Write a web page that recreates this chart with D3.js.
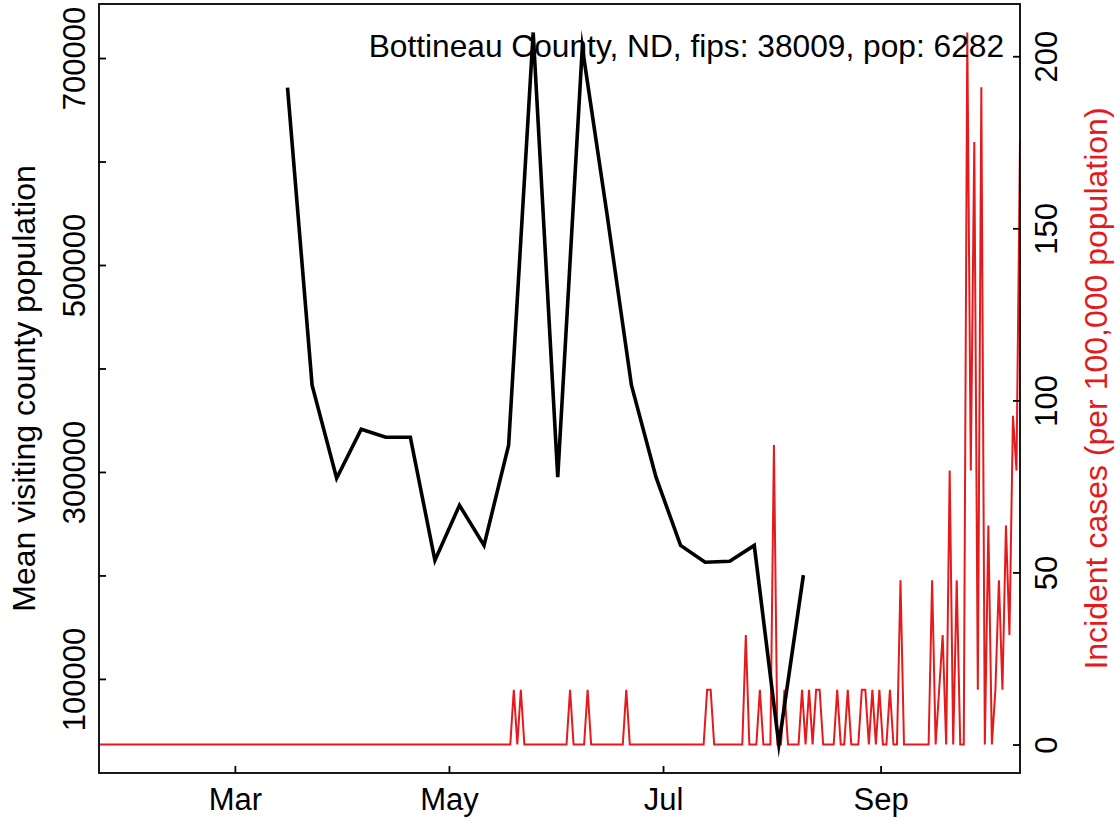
<!DOCTYPE html>
<html><head><meta charset="utf-8">
<script src="https://cdn.jsdelivr.net/npm/d3@7"></script>
<style>body{margin:0;background:#fff} svg{display:block} text{font-family:"Liberation Sans", Arial, Helvetica, sans-serif}</style>
</head><body><svg id="chart" width="1119" height="822"></svg>
<script>
// ---- data ----
const blackDates = ["2020-03-16","2020-03-23","2020-03-30","2020-04-06","2020-04-13","2020-04-20","2020-04-27","2020-05-04","2020-05-11","2020-05-18","2020-05-25","2020-06-01","2020-06-08","2020-06-15","2020-06-22","2020-06-29","2020-07-06","2020-07-13","2020-07-20","2020-07-27","2020-08-03","2020-08-10"];
const blackValues = [671400,383900,293900,341300,333600,333600,214500,267800,229000,325900,724700,294900,710200,550000,383900,294900,229000,212800,213700,229000,36600,200300];
const redSeriesStart = "2020-01-22";
const redSeriesEnd = "2020-10-10";
const redDates = ["2020-05-19","2020-05-21","2020-06-04","2020-06-09","2020-06-20","2020-07-13","2020-07-14","2020-07-24","2020-07-28","2020-08-01","2020-08-04","2020-08-09","2020-08-11","2020-08-13","2020-08-14","2020-08-19","2020-08-22","2020-08-26","2020-08-27","2020-08-29","2020-08-31","2020-09-03","2020-09-06","2020-09-15","2020-09-17","2020-09-18","2020-09-20","2020-09-22","2020-09-25","2020-09-26","2020-09-27","2020-09-28","2020-09-29","2020-10-01","2020-10-03","2020-10-04","2020-10-05","2020-10-06","2020-10-07","2020-10-08","2020-10-09","2020-10-10"];
const redValues = [15.92,15.92,15.92,15.92,15.92,15.92,15.92,31.83,15.92,87.0,15.92,15.92,15.92,15.92,15.92,15.92,15.92,15.92,15.92,15.92,15.92,15.92,47.75,47.75,15.92,31.83,79.59,47.75,206.9,79.59,175.1,15.92,191.0,63.67,15.92,47.75,15.92,63.67,31.83,95.5,79.59,175.1];
const leftTicks = [100000,200000,300000,400000,500000,600000,700000];
const leftTickLabels = ["100000","","300000","","500000","","700000"];
const rightTicks = [0,50,100,150,200];
const monthTicks = ["2020-03-01","2020-05-01","2020-07-01","2020-09-01"];
const monthLabels = ["Mar","May","Jul","Sep"];
const xlimDates = ["2020-02-01","2020-10-01"];
const titleText = "Bottineau County, ND, fips: 38009, pop: 6282";
const leftTitle = "Mean visiting county population";
const rightTitle = "Incident cases (per 100,000 population)";

// ---- layout ----
const L = 99, R = 1020, T = 4, B = 773;
const FS = 31;
const FS_LAB = 32;
const RED = "#e41a1c";
const parse = d3.utcParse("%Y-%m-%d");
const svg = d3.select("#chart");

function padded(ext){ const r = ext[1]-ext[0]; return [ext[0]-0.04*r, ext[1]+0.04*r]; }

const xl = xlimDates.map(parse);
const xspan = xl[1]-xl[0];
const x = d3.scaleUtc().domain([new Date(+xl[0]-0.04*xspan), new Date(+xl[1]+0.04*xspan)]).range([L,R]);
const yL = d3.scaleLinear().domain(padded(d3.extent(blackValues))).range([B,T]);
const yR = d3.scaleLinear().domain(padded([0, d3.max(redValues)])).range([B,T]);

// red daily series
const rStart = parse(redSeriesStart), rEnd = parse(redSeriesEnd);
const redMap = new Map(redDates.map((d,i)=>[d, redValues[i]]));
const redSeries = d3.utcDays(rStart, d3.utcDay.offset(rEnd,1)).map(d=>({d, v: redMap.get(d3.utcFormat("%Y-%m-%d")(d)) || 0}));
const xr = d3.scaleUtc().domain([rStart, rEnd]).range([L,R]);

svg.append("clipPath").attr("id","clip").append("rect").attr("x",L).attr("y",T).attr("width",R-L).attr("height",B-T);

// red line
svg.append("path").datum(redSeries)
  .attr("clip-path","url(#clip)")
  .attr("fill","none").attr("stroke",RED).attr("stroke-width",2).attr("stroke-linejoin","miter")
  .attr("d", d3.line().x(d=>xr(d.d)).y(d=>yR(d.v)));

// black line
const blk = blackDates.map((d,i)=>({d:parse(d), v:blackValues[i]}));
svg.append("path").datum(blk)
  .attr("fill","none").attr("stroke","#000").attr("stroke-width",3.6).attr("stroke-linejoin","miter").attr("stroke-miterlimit",10)
  .attr("d", d3.line().x(d=>x(d.d)).y(d=>yL(d.v)));

// box
svg.append("rect").attr("x",L).attr("y",T).attr("width",R-L).attr("height",B-T)
  .attr("fill","none").attr("stroke","#000").attr("stroke-width",1.8);

// bottom axis (ticks inward)
const gx = svg.append("g").attr("transform",`translate(0,${B})`)
  .call(d3.axisBottom(x).tickValues(monthTicks.map(parse)).tickSize(-7).tickFormat((d,i)=>monthLabels[i]));
gx.select(".domain").remove();
gx.selectAll("line").attr("stroke","#000").attr("stroke-width",1.8);
gx.selectAll("text").attr("font-size",FS).attr("fill","#000").attr("dy",null).attr("y",37);

// left axis
const gl = svg.append("g").attr("transform",`translate(${L},0)`)
  .call(d3.axisLeft(yL).tickValues(leftTicks).tickSize(-7).tickFormat((d,i)=>leftTickLabels[i]));
gl.select(".domain").remove();
gl.selectAll("line").attr("stroke","#000").attr("stroke-width",1.8);
gl.selectAll("text").attr("font-size",FS).attr("fill","#000").attr("x",null).attr("dy",null)
  .attr("text-anchor","middle").attr("transform","translate(-14,0) rotate(-90)");

// right axis
const gr = svg.append("g").attr("transform",`translate(${R},0)`)
  .call(d3.axisRight(yR).tickValues(rightTicks).tickSize(-7).tickFormat(d3.format("d")));
gr.select(".domain").remove();
gr.selectAll("line").attr("stroke","#000").attr("stroke-width",1.8);
gr.selectAll("text").attr("font-size",FS).attr("fill","#000").attr("x",null).attr("dy",null)
  .attr("text-anchor","middle").attr("transform","translate(37,0) rotate(-90)");

// titles
svg.append("text").attr("transform",`translate(35,${(T+B)/2}) rotate(-90)`).attr("text-anchor","middle")
  .attr("font-size",FS_LAB).attr("fill","#000").text(leftTitle);
svg.append("text").attr("transform",`translate(1107,${(T+B)/2}) rotate(-90)`).attr("text-anchor","middle")
  .attr("font-size",FS_LAB).attr("fill",RED).text(rightTitle);
svg.append("text").attr("x",1004).attr("y",57).attr("text-anchor","end")
  .attr("font-size",31.7).attr("fill","#000").text(titleText);
</script></body></html>
